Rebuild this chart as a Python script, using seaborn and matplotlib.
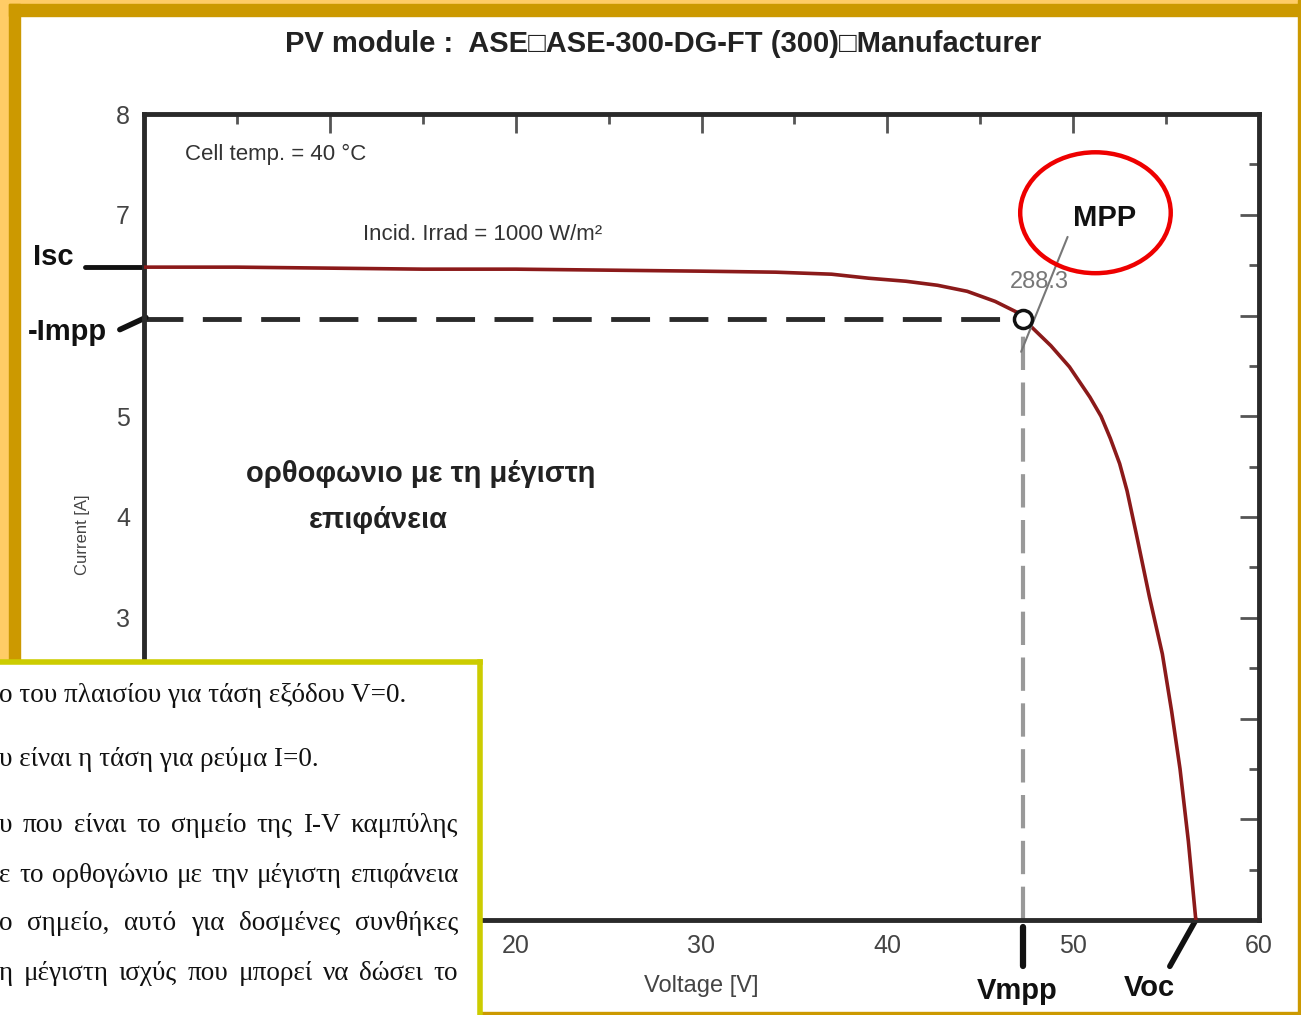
import numpy as np
import pandas as pd
import seaborn as sns
import matplotlib
matplotlib.use('Agg')
import matplotlib.pyplot as plt
from matplotlib.patches import Ellipse, Rectangle
from matplotlib.ticker import MultipleLocator

# I-V curve, values
voltage = [0, 5, 10, 15, 20, 25, 30, 34, 37, 39, 41, 42.7, 44.3, 45.8, 47.0,
           47.85, 48.8, 49.8, 50.9, 51.5, 52.0, 52.5, 52.9, 53.4, 54.1, 54.8,
           55.3, 55.75, 56.2, 56.6]
current = [6.48, 6.48, 6.47, 6.46, 6.46, 6.45, 6.44, 6.43, 6.41, 6.37, 6.34, 6.30,
           6.24, 6.14, 6.03, 5.87, 5.70, 5.49, 5.19, 5.00, 4.78, 4.53, 4.26, 3.83,
           3.21, 2.64, 2.07, 1.50, 0.78, 0.0]
v_mpp, i_mpp = 47.3, 5.97
i_sc = 6.48
v_oc = 56.6
p_mpp_label = "288.3"

title = "PV module :  ASE\u25a1ASE-300-DG-FT (300)\u25a1Manufacturer"
x_ticks = [0, 10, 20, 30, 40, 50, 60]
x_labels = ['', '', '20', '30', '40', '50', '60']   # 0 and 10 sit under the text box
y_ticks = [0, 1, 2, 3, 4, 5, 6, 7, 8]
y_labels = ['', '', '', '3', '4', '5', '', '7', '8']  # 6 is hidden by the Impp mark
cell_temp = "Cell temp. = 40 \u00b0C"
irrad = "Incid. Irrad = 1000 W/m\u00b2"
rect_text = ["ορθοφωνιο με τη μέγιστη", "επιφάνεια"]

# text box overlapping the lower left corner (cut off on the left)
box_lines = [
    ("ο του πλαισίου για τάση εξόδου V=0.", False),
    ("υ είναι η τάση για ρεύμα I=0.", False),
    ("υ που είναι το σημείο της I-V καμπύλης", True),
    ("ε το ορθογώνιο με την μέγιστη επιφάνεια", True),
    ("ο σημείο, αυτό για δοσμένες συνθήκες", True),
    ("η μέγιστη ισχύς που μπορεί να δώσει το", True),
]
box_y = [34, 98, 164, 214, 262, 311]

sns.set_theme(style="white")
plt.rcParams['font.family'] = ['Liberation Sans', 'DejaVu Sans']

W, H = 1301, 1015
fig = plt.figure(figsize=(W / 100, H / 100), dpi=100)
fig.patch.set_facecolor('white')

# orange page frame
light, dark = '#FFCC66', '#CC9900'
fig.patches.append(Rectangle((0, 1 - 4 / H), 1, 4 / H, transform=fig.transFigure, color=light, zorder=0))
fig.patches.append(Rectangle((0, 0), 9 / W, 1, transform=fig.transFigure, color=light, zorder=0))
fig.patches.append(Rectangle((9 / W, 1 - 16 / H), 1, 12 / H, transform=fig.transFigure, color=dark, zorder=0))
fig.patches.append(Rectangle((9 / W, 0), 11 / W, 1 - 4 / H, transform=fig.transFigure, color=dark, zorder=0))
fig.patches.append(Rectangle((1298 / W, 0), 3 / W, 1, transform=fig.transFigure, color=dark, zorder=0))
fig.patches.append(Rectangle((0, 0), 1, 3 / H, transform=fig.transFigure, color=dark, zorder=0))

fig.text(663 / W, 1 - 44 / H, title, ha='center', va='center', fontsize=21,
         fontweight='bold', color='#222222')

ax = fig.add_axes([144 / W, 1 - 920 / H, (1259 - 144) / W, (920 - 114) / H])
df = pd.DataFrame({'V': voltage, 'I': current})
sns.lineplot(data=df, x='V', y='I', sort=False, color='#8B1A1A', lw=2.6, ax=ax, zorder=3)

ax.set_xlim(0, 60)
ax.set_ylim(0, 8)
ax.set_xticks(x_ticks, x_labels)
ax.set_yticks(y_ticks, y_labels)
ax.xaxis.set_minor_locator(MultipleLocator(5))
ax.yaxis.set_minor_locator(MultipleLocator(0.5))
ax.tick_params(which='both', direction='in', top=True, right=True, color='#555555',
               labelcolor='#444444', labelsize=18, width=2)
ax.tick_params(which='major', length=14, pad=10)
ax.tick_params(which='minor', length=7)
for s in ax.spines.values():
    s.set_color('#2a2a2a')
    s.set_linewidth(3.5)
ax.set_xlabel("Voltage [V]", fontsize=17, color='#444444', labelpad=12)
ax.set_ylabel("Current [A]", fontsize=12, color='#444444')
ax.yaxis.set_label_coords(-0.048, 0.478)

# MPP helpers
ax.plot([0, v_mpp], [i_mpp, i_mpp], color='#2a2a2a', lw=3.5, dashes=(8, 4), zorder=2)
ax.plot([v_mpp, v_mpp], [0, i_mpp], color='#999999', lw=3, dashes=(8, 3), zorder=2)
ax.plot([v_mpp], [i_mpp], marker='o', ms=13, mfc='white', mec='#111111', mew=2.5, zorder=5)
ax.plot([47.2, 49.7], [5.64, 6.78], color='#777777', lw=1.5, zorder=4)
ax.text(48.2, 6.33, p_mpp_label, ha='center', va='center', fontsize=17, color='#777777', zorder=4)
ax.add_patch(Ellipse((51.2, 7.02), 8.1, 1.2, fill=False, edgecolor='#EE0000', lw=3.2,
                     clip_on=False, zorder=6))
ax.text(51.7, 6.97, "MPP", ha='center', va='center', fontsize=21, fontweight='bold', color='#111111')

ax.text(2.2, 7.6, cell_temp, ha='left', va='center', fontsize=16, color='#333333')
ax.text(11.8, 6.8, irrad, ha='left', va='center', fontsize=16, color='#333333')
ax.text(14.9, 4.43, rect_text[0], ha='center', va='center', fontsize=21, fontweight='bold', color='#222222')
ax.text(12.6, 3.97, rect_text[1], ha='center', va='center', fontsize=21, fontweight='bold', color='#222222')

# marks outside the axes
lab = dict(fontsize=21, fontweight='bold', color='#111111', ha='center', va='center', clip_on=False)
ax.plot([-3.2, 0], [i_sc, i_sc], color='#111111', lw=3.5, clip_on=False)
ax.text(-4.9, 6.58, "Isc", **lab)
ax.plot([-1.3, 0.1], [5.86, 5.98], color='#111111', lw=4, clip_on=False)
ax.text(-4.1, 5.84, "-Impp", **lab)
ax.plot([v_mpp, v_mpp], [-0.07, -0.46], color='#111111', lw=4.5, clip_on=False)
ax.text(47.0, -0.7, "Vmpp", **lab)
ax.plot([v_oc, 55.2], [0, -0.46], color='#111111', lw=4, clip_on=False)
ax.text(54.1, -0.67, "Voc", **lab)

# overlapping text box
bax = fig.add_axes([0, 0, 480 / W, (H - 662) / H], zorder=10)
bax.set_facecolor('white')
bax.set_xlim(0, 480)
bax.set_ylim(H - 662, 0)
bax.set_xticks([])
bax.set_yticks([])
for side in ['left', 'bottom']:
    bax.spines[side].set_visible(False)
for side in ['top', 'right']:
    bax.spines[side].set_color('#CCCC00')
    bax.spines[side].set_linewidth(4)

serif = dict(fontsize=19.5, family=['Liberation Serif', 'DejaVu Serif'], color='#111111', va='center')
renderer = fig.canvas.get_renderer()
right_edge = 458
for (line, justify), y in zip(box_lines, box_y):
    if not justify:
        bax.text(-1, y, line, ha='left', **serif)
        continue
    words = line.split()
    ts = [bax.text(0, y, w, ha='left', **serif) for w in words]
    widths = [t.get_window_extent(renderer).width for t in ts]
    gap = (right_edge + 1 - sum(widths)) / (len(words) - 1)
    x = -1
    for t, w in zip(ts, widths):
        t.set_x(x)
        x += w + gap

fig.savefig("out.png", dpi=100, facecolor=fig.get_facecolor())
